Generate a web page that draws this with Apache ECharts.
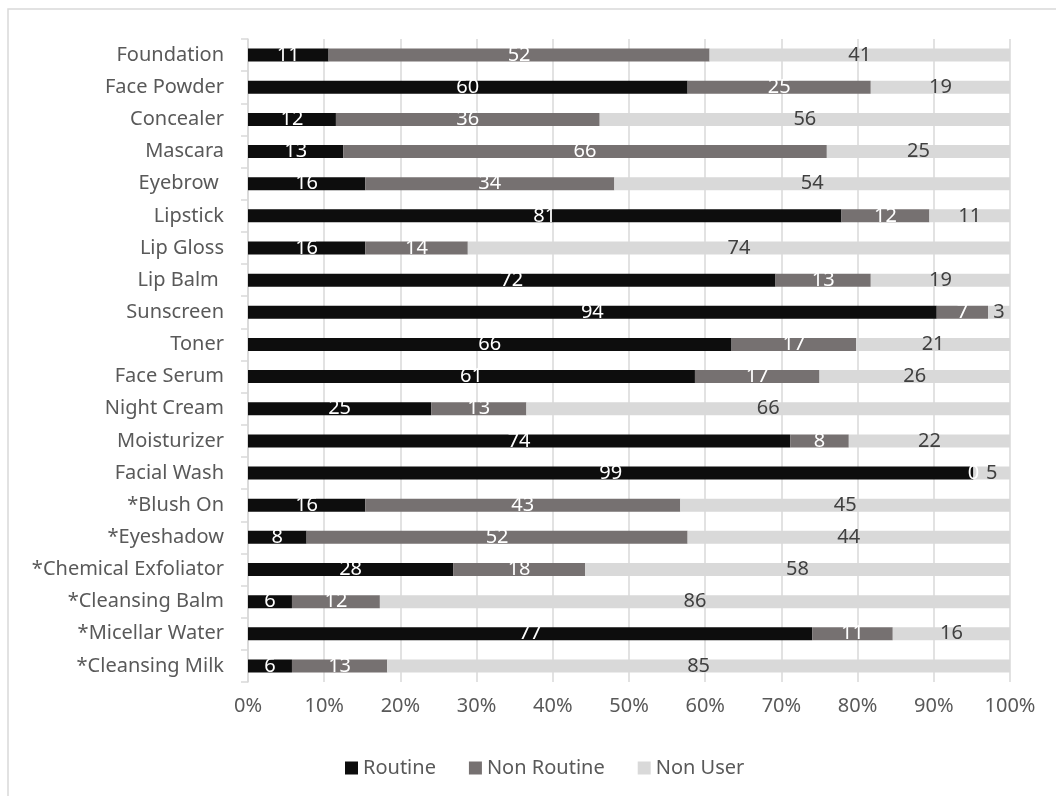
<!DOCTYPE html>
<html><head><meta charset="utf-8">
<script src="https://cdn.jsdelivr.net/npm/echarts@6/dist/echarts.min.js"></script>
<style>html,body{margin:0;padding:0;background:#fff}#c{width:1056px;height:796px}</style>
</head><body><div id="c"></div>
<script>
const categories = ["Foundation","Face Powder","Concealer","Mascara","Eyebrow ","Lipstick","Lip Gloss","Lip Balm ","Sunscreen","Toner","Face Serum","Night Cream","Moisturizer","Facial Wash","*Blush On","*Eyeshadow","*Chemical Exfoliator","*Cleansing Balm","*Micellar Water","*Cleansing Milk"];
const routine    = [11,60,12,13,16,81,16,72,94,66,61,25,74,99,16,8,28,6,77,6];
const nonRoutine = [52,25,36,66,34,12,14,13,7,17,17,13,8,0,43,52,18,12,11,13];
const nonUser    = [41,19,56,25,54,11,74,19,3,21,26,66,22,5,45,44,58,86,16,85];
const xTicks = [0,10,20,30,40,50,60,70,80,90,100];

const totals = categories.map((c,i)=>routine[i]+nonRoutine[i]+nonUser[i]);
const toData = arr => arr.map((v,i)=>({value: v/totals[i]*100, raw: v}));

const FONT = "Noto Sans";
const FS = 20;
const chart = echarts.init(document.getElementById('c'));
function mk(name, arr, color, labelColor){
  return {
    name, type:'bar', stack:'all', barWidth:13,
    data: toData(arr),
    itemStyle:{color},
    label:{show:true, position:'inside', color:labelColor, fontFamily:FONT, fontSize:FS,
      formatter: p => String(p.data.raw)},
    emphasis:{disabled:true}
  };
}
chart.setOption({
  animation:false,
  textStyle:{fontFamily:FONT},
  graphic:[{type:'rect', shape:{x:8,y:9,width:1100,height:900}, style:{fill:'none', stroke:'#d9d9d9', lineWidth:1.5}, z:-1}],
  grid:{left:248, right:46, top:39, bottom:114, containLabel:false},
  legend:{
    top:753, left:340, itemWidth:13, itemHeight:13, itemGap:33,
    icon:'rect',
    textStyle:{color:'#595959', fontSize:FS, fontFamily:FONT},
    data:['Routine','Non Routine','Non User']
  },
  xAxis:{type:'value', min:xTicks[0], max:xTicks[xTicks.length-1], interval:10,
    axisLabel:{formatter:'{value}%', color:'#595959', fontSize:FS, fontFamily:FONT, margin:14},
    axisLine:{show:false}, axisTick:{show:false},
    splitLine:{lineStyle:{color:'#d9d9d9', width:1.5}}
  },
  yAxis:{type:'category', data:categories, inverse:true,
    axisLabel:{color:'#595959', fontSize:FS, fontFamily:FONT, margin:24},
    axisLine:{lineStyle:{color:'#d9d9d9', width:1.5}},
    axisTick:{show:true, length:7, lineStyle:{color:'#d9d9d9', width:1.5}}
  },
  series:[
    mk('Routine', routine, '#0d0d0d', '#ffffff'),
    mk('Non Routine', nonRoutine, '#767171', '#ffffff'),
    mk('Non User', nonUser, '#d9d9d9', '#404040')
  ]
});
</script></body></html>
